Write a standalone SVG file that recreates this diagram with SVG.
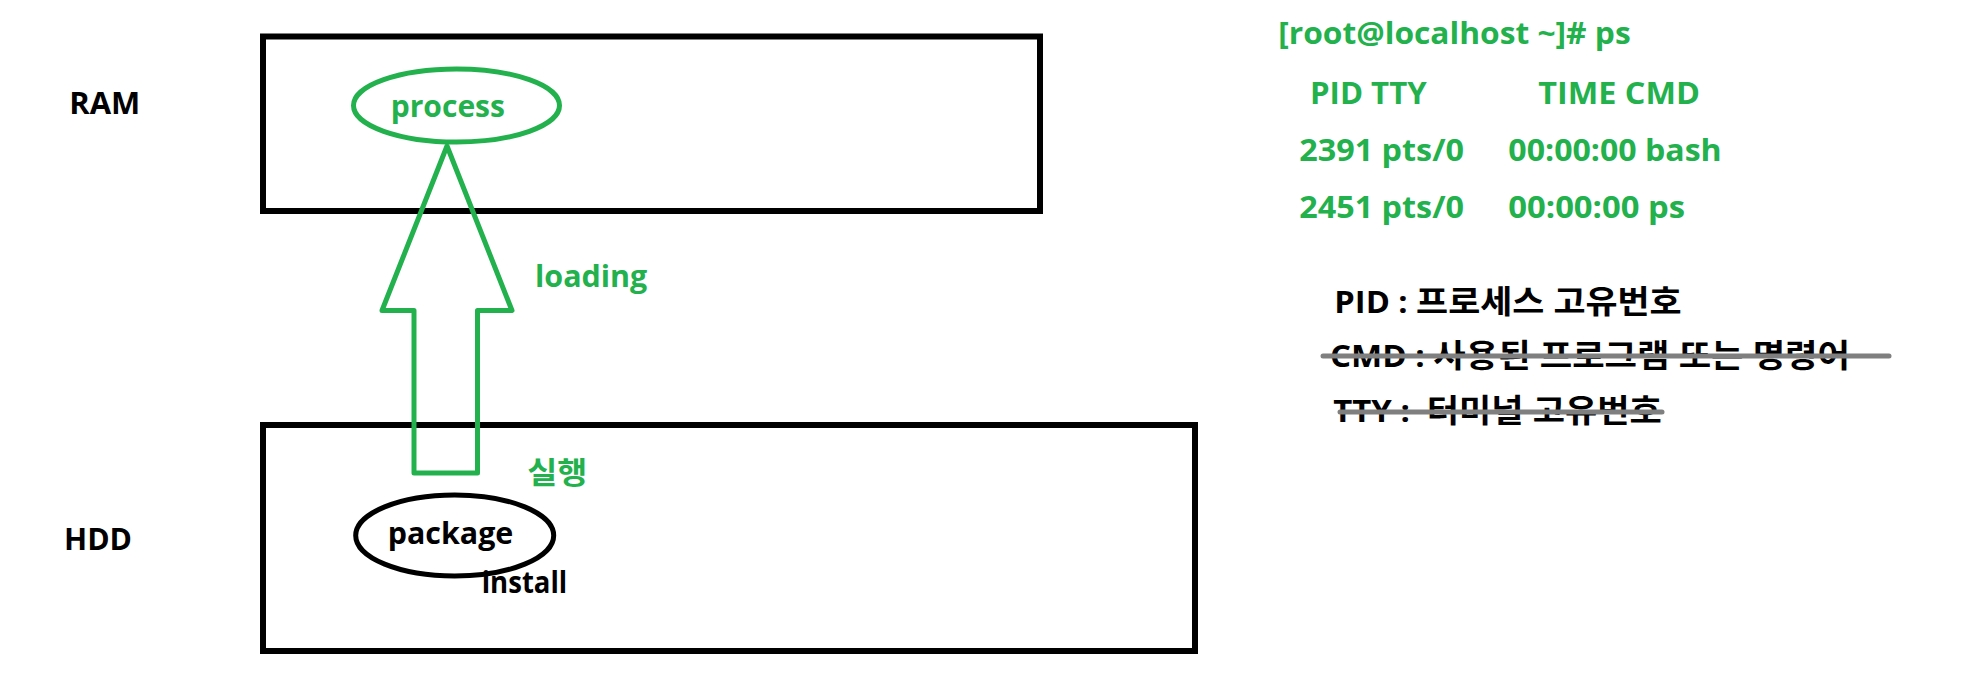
<svg xmlns="http://www.w3.org/2000/svg" width="1970" height="696" viewBox="0 0 1970 696">
  <style>
    text { font-family: "Open Sans", "Noto Sans CJK KR", sans-serif; font-weight: 700; font-size: 30px; white-space: pre; }
    .ko { font-size: 32px; }
    .g { fill: #22B14C; }
    .k { fill: #000000; }
    .box { fill: none; stroke: #000000; stroke-width: 6; }
    .gstroke { fill: none; stroke: #22B14C; stroke-width: 5; }
    .strike { stroke: #7F7F7F; stroke-width: 5; stroke-linecap: round; }
  </style>
  <rect width="1970" height="696" fill="#ffffff"/>

  <g id="ram">
    <rect class="box" x="263" y="36.5" width="777" height="174.5"/>
    <text class="k" x="69.3" y="114" textLength="71" lengthAdjust="spacingAndGlyphs">RAM</text>
  </g>

  <g id="hdd">
    <rect class="box" x="263" y="425" width="932" height="226"/>
    <text class="k" x="64" y="550" textLength="68" lengthAdjust="spacingAndGlyphs">HDD</text>
  </g>

  <g id="process">
    <ellipse class="gstroke" cx="456.5" cy="105.5" rx="103" ry="36.5"/>
    <text class="g" x="390.7" y="117.3" textLength="114.3" lengthAdjust="spacingAndGlyphs">process</text>
  </g>

  <g id="package">
    <ellipse fill="none" stroke="#000000" stroke-width="5" cx="454.7" cy="535.5" rx="99" ry="40.5"/>
    <text class="k" x="387.7" y="544" textLength="125.6" lengthAdjust="spacingAndGlyphs">package</text>
    <text class="k" x="481.7" y="592.7" textLength="85.6" lengthAdjust="spacingAndGlyphs">install</text>
  </g>

  <g id="connectors">
    <polygon class="gstroke" stroke-linejoin="round" points="447,146 512,310.5 477.5,310.5 477.5,473 414,473 414,310.5 382,310.5"/>
    <text class="g" x="535" y="287.3" textLength="112.3" lengthAdjust="spacingAndGlyphs">loading</text>
    <text class="g" x="527.3" y="483" font-size="32" textLength="60" lengthAdjust="spacingAndGlyphs">실행</text>
  </g>

  <g id="ps-output">
    <text class="g" x="1278.3" y="44.3" font-weight="600" textLength="352.4" lengthAdjust="spacingAndGlyphs">[root@localhost ~]# ps</text>
    <text class="g" x="1310" y="104" textLength="116.7" lengthAdjust="spacingAndGlyphs">PID TTY</text>
    <text class="g" x="1538.3" y="104" textLength="161.7" lengthAdjust="spacingAndGlyphs">TIME CMD</text>
    <text class="g" x="1299.3" y="161" textLength="164.7" lengthAdjust="spacingAndGlyphs">2391 pts/0</text>
    <text class="g" x="1508.3" y="161" textLength="213.4" lengthAdjust="spacingAndGlyphs">00:00:00 bash</text>
    <text class="g" x="1299.3" y="218.3" textLength="164.7" lengthAdjust="spacingAndGlyphs">2451 pts/0</text>
    <text class="g" x="1508.3" y="218.3" textLength="176.7" lengthAdjust="spacingAndGlyphs">00:00:00 ps</text>
  </g>

  <g id="legend">
    <text class="k" x="1334.3" y="313.3" textLength="347.4" lengthAdjust="spacingAndGlyphs">PID : <tspan class="ko">프로세스 고유번호</tspan></text>
    <text class="k" x="1330" y="367.3" textLength="520" lengthAdjust="spacingAndGlyphs">CMD : <tspan class="ko">사용된 프로그램 또는 명령어</tspan></text>
    <text class="k" x="1333.3" y="421.7" textLength="328.4" lengthAdjust="spacingAndGlyphs" xml:space="preserve">TTY :  <tspan class="ko">터미널 고유번호</tspan></text>
    <line class="strike" x1="1323" y1="356" x2="1889" y2="356"/>
    <line class="strike" x1="1340" y1="412" x2="1662" y2="412"/>
  </g>
</svg>
